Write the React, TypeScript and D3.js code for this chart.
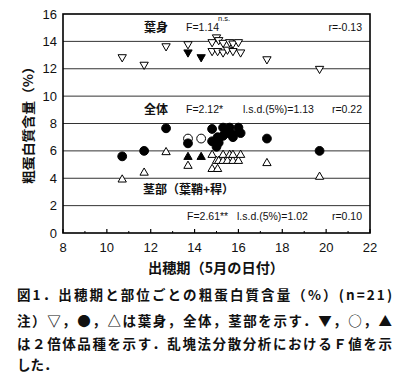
import React from "react";
import * as d3 from "d3";

// heading date (day in May) of the 21 cultivars
const dates = [10.7, 11.7, 12.7, 13.7, 13.7, 14.3, 14.8, 14.8, 15.0, 15.05, 15.1, 15.3, 15.3, 15.5, 15.6, 15.75, 15.75, 16.0, 16.1, 17.3, 19.7];
// diploid cultivars (filled ▼, open ○, filled ▲)
const diploid = [false, false, false, false, true, true, false, false, false, false, false, false, false, false, false, false, false, false, false, false, false];
// crude protein (%) of leaf blade (葉身)
const leaf = [12.85, 12.3, 13.65, 13.8, 13.2, 12.85, 13.95, 13.3, 14.3, 13.3, 14.1, 13.9, 13.2, 13.4, 13.95, 13.85, 13.3, 13.95, 13.2, 12.7, 12.0];
// crude protein (%) of whole plant (全体)
const whole = [5.6, 6.0, 7.65, 6.55, 6.9, 6.9, 7.6, 6.7, 6.3, 7.0, 6.6, 7.7, 7.1, 7.3, 7.7, 7.2, 7.0, 7.7, 7.3, 6.9, 6.0];
// crude protein (%) of stem (茎部)
const stem = [3.9, 4.4, 5.9, 4.9, 5.55, 5.55, 5.7, 4.67, 5.26, 4.67, 5.26, 5.26, 5.7, 5.26, 5.7, 5.26, 5.7, 5.26, 5.7, 5.1, 4.1];

const xTicks = [8, 10, 12, 14, 16, 18, 20, 22];
const xMinor = [9, 11, 13, 15, 17, 19, 21];
const yTicks = [0, 2, 4, 6, 8, 10, 12, 14, 16];
const gridValues = [2, 4, 6, 8, 10, 12, 14];

const captionLines = [
  "図1．出穂期と部位ごとの粗蛋白質含量（%）(n=21)",
  "注）▽，●，△は葉身，全体，茎部を示す．▼，○，▲",
  "は２倍体品種を示す．乱塊法分散分析におけるＦ値を示",
  "した．",
];

const LAT = "'Liberation Sans', Arial, sans-serif";
const JP = "'Noto Sans CJK JP', 'Liberation Sans', sans-serif";

export default function App() {
  const x = d3.scaleLinear().domain([8, 22]).range([63, 370]);
  const y = d3.scaleLinear().domain([0, 16]).range([233, 14]);
  const tri = d3.symbol().type(d3.symbolTriangle).size(30)() as string;
  const idx = d3.range(dates.length);
  const order = [...idx.filter((i) => !diploid[i]), ...idx.filter((i) => diploid[i])];
  const circleOrder = [...idx.filter((i) => diploid[i]), ...idx.filter((i) => !diploid[i])];

  return (
    <svg width={398} height={373} style={{ position: "absolute", left: 0, top: 0, background: "#fff" }}>
      <rect x={0} y={0} width={398} height={373} fill="#fff" />
      {gridValues.map((v) => (
        <line key={"g" + v} x1={x(8)} x2={x(22)} y1={y(v)} y2={y(v)} stroke="#333" strokeWidth={1} />
      ))}
      {xTicks.map((t) => (
        <line key={"xt" + t} x1={x(t)} x2={x(t)} y1={y(0)} y2={y(0) - 4} stroke="#000" strokeWidth={1.2} />
      ))}
      {xMinor.map((t) => (
        <line key={"xm" + t} x1={x(t)} x2={x(t)} y1={y(0)} y2={y(0) - 2} stroke="#000" strokeWidth={1} />
      ))}
      <rect x={x(8)} y={y(16)} width={x(22) - x(8)} height={y(0) - y(16)} fill="none" stroke="#000" strokeWidth={1.6} />

      {yTicks.map((t) => (
        <text key={"yl" + t} x={57} y={y(t) + 4.5} textAnchor="end" fontFamily={LAT} fontSize={13} fill="#111">
          {t}
        </text>
      ))}
      {xTicks.map((t) => (
        <text key={"xl" + t} x={x(t)} y={252} textAnchor="middle" fontFamily={LAT} fontSize={13} fill="#111">
          {t}
        </text>
      ))}

      {/* stem triangles */}
      {order.map((i) => (
        <path key={"s" + i} d={tri} transform={`translate(${x(dates[i])},${y(stem[i])})`}
          fill={diploid[i] ? "#000" : "#fff"} stroke="#000" strokeWidth={1} />
      ))}
      {/* leaf triangles (pointing down) */}
      {order.map((i) => (
        <path key={"l" + i} d={tri} transform={`translate(${x(dates[i])},${y(leaf[i])}) rotate(180)`}
          fill={diploid[i] ? "#000" : "#fff"} stroke="#000" strokeWidth={1} />
      ))}
      {/* whole plant circles */}
      {circleOrder.map((i) => (
        <circle key={"w" + i} cx={x(dates[i])} cy={y(whole[i])} r={4.4}
          fill={diploid[i] ? "#fff" : "#000"} stroke="#000" strokeWidth={1} />
      ))}

      {/* annotations */}
      <text x={144} y={32} fontFamily={JP} fontSize={12} fontWeight={700} fill="#111">葉身</text>
      <text x={186} y={31} fontFamily={LAT} fontSize={10.5} fill="#111">F=1.14</text>
      <text x={218} y={21} fontFamily={LAT} fontSize={7.5} fill="#111">n.s.</text>
      <text x={362} y={31} textAnchor="end" fontFamily={LAT} fontSize={10.5} fill="#111">r=-0.13</text>

      <text x={144} y={114} fontFamily={JP} fontSize={12} fontWeight={700} fill="#111">全体</text>
      <text x={186} y={113} fontFamily={LAT} fontSize={10.5} fill="#111">F=2.12*</text>
      <text x={243} y={113} fontFamily={LAT} fontSize={10.5} fill="#111">l.s.d.(5%)=1.13</text>
      <text x={362} y={113} textAnchor="end" fontFamily={LAT} fontSize={10.5} fill="#111">r=0.22</text>

      <text x={143} y={194} fontFamily={JP} fontSize={12} fontWeight={700} fill="#111">茎部（葉鞘+稈）</text>
      <text x={187} y={220} fontFamily={LAT} fontSize={10.5} fill="#111">F=2.61**</text>
      <text x={237} y={220} fontFamily={LAT} fontSize={10.5} fill="#111">l.s.d.(5%)=1.02</text>
      <text x={362} y={220} textAnchor="end" fontFamily={LAT} fontSize={10.5} fill="#111">r=0.10</text>

      {/* axis titles */}
      <text transform="translate(33,122) rotate(-90)" textAnchor="middle" fontFamily={JP} fontSize={13} fontWeight={700}
        fill="#111" textLength={124} lengthAdjust="spacingAndGlyphs">粗蛋白質含量（%）</text>
      <text x={216} y={273} textAnchor="middle" fontFamily={JP} fontSize={14} fontWeight={700} fill="#111"
        textLength={136} lengthAdjust="spacingAndGlyphs">出穂期（5月の日付）</text>

      {/* caption */}
      {captionLines.map((line, k) => (
        <text key={"c" + k} x={17} y={[300, 326, 349, 370][k]} fontFamily={JP} fontSize={13.5} fontWeight={700} fill="#111"
          {...(k < 3 ? { textLength: 375, lengthAdjust: "spacing" } : {})}>
          {line}
        </text>
      ))}
    </svg>
  );
}
